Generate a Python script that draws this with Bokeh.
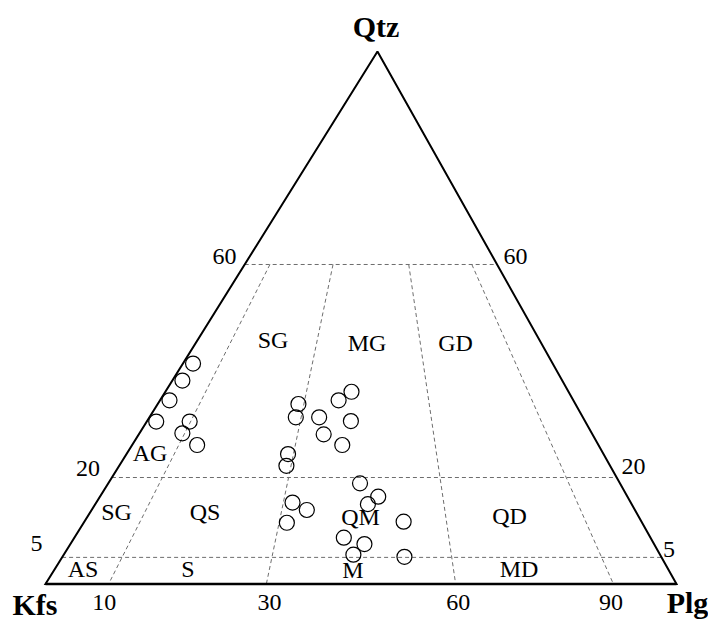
import numpy as np
from bokeh.plotting import figure
from bokeh.models import Range1d
from bokeh.core.properties import value
from bokeh.embed import file_html
from bokeh.resources import INLINE

# ---- sample compositions (modal %) ----
qtz = [41.4, 38.2, 34.5, 30.5, 30.5, 28.3, 26.1, 33.8, 31.3, 31.3, 28.1, 34.5, 36.1, 30.6,
       26.1, 24.4, 22.2, 18.9, 16.4, 15.0, 15.3, 13.9, 11.5, 11.7, 8.7, 7.5, 5.5, 5.1]
plg = [1.6, 1.6, 1.5, 1.5, 6.8, 6.8, 10.3, 22.3, 23.2, 26.9, 29.3, 28.3, 29.5, 32.3,
       33.3, 25.6, 26.5, 39.9, 44.1, 43.2, 31.1, 34.1, 32.2, 50.6, 42.7, 46.6, 45.9, 54.2]
kfs = [57.0, 60.2, 64.0, 68.0, 62.7, 64.9, 63.6, 43.9, 45.5, 41.8, 42.6, 37.2, 34.4, 37.1,
       40.6, 50.0, 51.3, 41.2, 39.5, 41.8, 53.6, 52.0, 56.3, 37.7, 48.6, 45.9, 48.6, 40.7]

# ---- field boundaries ----
q_levels = [60, 20, 5]                 # Qtz % horizontal boundaries
plg_ratios = [10, 35, 65, 90]          # 100*Plg/(Kfs+Plg) boundaries
q_top = 60

# ---- labels ----
vertex_names = ["Qtz", "Kfs", "Plg"]
bottom_tick_labels = ["10", "30", "60", "90"]
side_tick_labels = ["60", "20", "5"]
field_names = ["SG", "MG", "GD", "AG", "SG", "QS", "QM", "QD", "AS", "S", "M", "MD"]

APEX_X = 52.61  # horizontal position of the Qtz apex (diagram is slightly skewed)


def tern(q, a, p):
    q = np.asarray(q, float)
    a = np.asarray(a, float)
    p = np.asarray(p, float)
    s = q + a + p
    q = 100 * q / s
    p = 100 * p / s
    return p + q * APEX_X / 100.0, q


p = figure(width=708, height=621,
           x_range=Range1d(-7.132, 105.071), y_range=Range1d(-7.042, 109.577),
           output_backend="svg", toolbar_location=None,
           x_axis_type=None, y_axis_type=None, min_border=0)
p.outline_line_color = None
p.background_fill_color = "white"
p.border_fill_color = "white"

DASH = dict(line_color="#6e6e6e", line_width=1, line_dash="4 3")

# horizontal boundaries
hx, hy = [], []
for q in q_levels:
    x0, y0 = tern(q, 100 - q, 0)
    x1, y1 = tern(q, 0, 100 - q)
    hx.append([float(x0), float(x1)])
    hy.append([float(y0), float(y1)])
p.multi_line(hx, hy, **DASH)

# radial boundaries (constant Plg/(Kfs+Plg)) from Q=60 to the base
rx, ry = [], []
for r in plg_ratios:
    rest = 100 - q_top
    xa, ya = tern(q_top, rest * (100 - r) / 100, rest * r / 100)
    xb, yb = tern(0, 100 - r, r)
    rx.append([float(xa), float(xb)])
    ry.append([float(ya), float(yb)])
p.multi_line(rx, ry, **DASH)

# triangle edges
vx, vy = tern([100, 0, 0, 100], [0, 100, 0, 0], [0, 0, 100, 0])
p.line(list(vx), list(vy), line_color="black", line_width=2, line_join="miter")
p.line([float(vx[1]), float(vx[2])], [0, 0], line_color="black", line_width=2.4)

# samples
sx, sy = tern(qtz, kfs, plg)
p.scatter(list(sx), list(sy), marker="circle", size=15, fill_color=None,
          line_color="black", line_width=1.2)

FONT = value("Liberation Serif")
DY = 1.69    # baseline correction for 24px text (data units)
DYB = 2.07   # baseline correction for 30px text


def up(ys, d):
    return [y + d for y in ys]


# field labels
fx = [36.05, 50.95, 64.98, 16.56, 11.25, 25.28, 49.92, 73.53, 5.94, 22.58, 48.73, 75.04]
fy = [44.04, 43.66, 43.66, 22.82, 11.92, 11.74, 10.80, 11.17, 1.22, 1.22, 0.94, 1.22]
p.text(fx, up(fy, DY), text=field_names, text_font=FONT, text_font_size="24px",
       text_align="center", text_baseline="alphabetic", text_color="black")

# bottom tick labels
p.text([9.3, 35.5, 65.4, 89.6], up([-5.16] * 4, DY), text=bottom_tick_labels, text_font=FONT,
       text_font_size="24px", text_align="center", text_baseline="alphabetic")

# side tick labels
p.text([28.37, 6.74, -1.43], up([59.81, 20.0, 5.92], DY), text=side_tick_labels,
       text_font=FONT, text_font_size="24px", text_align="center", text_baseline="alphabetic")
p.text([74.49, 93.19, 98.81], up([59.81, 20.38, 4.79], DY), text=side_tick_labels,
       text_font=FONT, text_font_size="24px", text_align="center", text_baseline="alphabetic")

# vertex labels
p.text([52.38, -1.66, 101.74], up([102.63, -5.92, -5.54], DYB), text=vertex_names,
       text_font=FONT, text_font_size="30px", text_font_style="bold", text_align="center",
       text_baseline="alphabetic")

open("out.html", "w").write(file_html(p, INLINE))
